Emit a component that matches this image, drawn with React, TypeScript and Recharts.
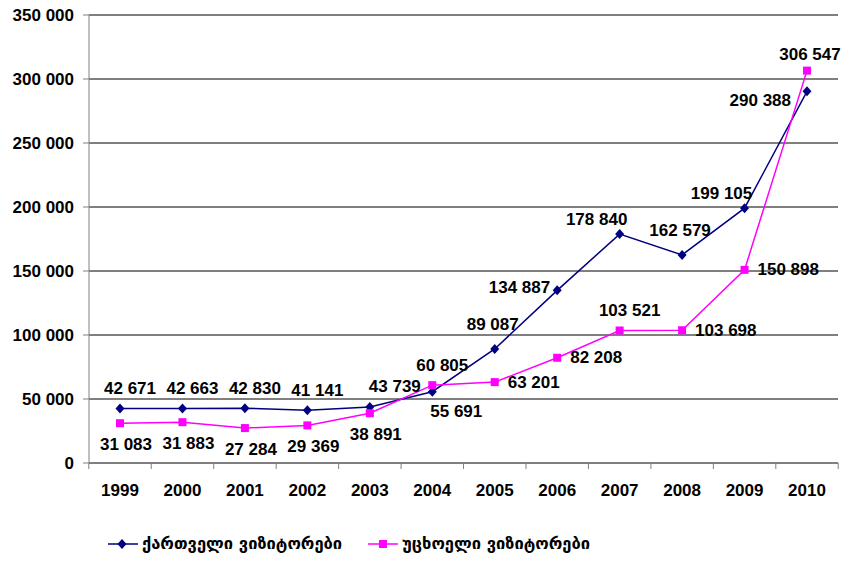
import React from 'react';
import { LineChart, Line, XAxis, YAxis, CartesianGrid, Legend, LabelList } from 'recharts';

const years = ['1999', '2000', '2001', '2002', '2003', '2004', '2005', '2006', '2007', '2008', '2009', '2010'];
const georgianVisitors = [42671, 42663, 42830, 41141, 43739, 55691, 89087, 134887, 178840, 162579, 199105, 290388];
const foreignVisitors = [31083, 31883, 27284, 29369, 38891, 60805, 63201, 82208, 103521, 103698, 150898, 306547];
const yTicks = [0, 50000, 100000, 150000, 200000, 250000, 300000, 350000];

const georgianName = 'ქართველი ვიზიტორები';
const foreignName = 'უცხოელი ვიზიტორები';

// where each data label sits relative to its point
const georgianLabelPlaces = ['aboveR', 'aboveR', 'aboveR', 'aboveR', 'aboveRR', 'belowR', 'above', 'left', 'aboveL', 'above', 'aboveL', 'leftLow'];
const foreignLabelPlaces = ['below', 'below', 'below', 'below', 'below', 'aboveR', 'right', 'right', 'aboveR', 'right', 'right', 'aboveC'];

const chartData = years.map((year, i) => ({
  year,
  georgian: georgianVisitors[i],
  foreign: foreignVisitors[i],
}));

const NAVY = '#000080';
const MAGENTA = '#FF00FF';
const FONT = '"Liberation Sans", Arial, sans-serif';

const fmt = (n: number) => String(n).replace(/\B(?=(\d{3})+(?!\d))/g, ' ');

const placeOffsets: Record<string, { dx: number; dy: number; anchor: 'start' | 'middle' | 'end' }> = {
  above: { dx: -2, dy: -24, anchor: 'middle' },
  aboveC: { dx: 3, dy: -16, anchor: 'middle' },
  aboveR: { dx: 10, dy: -20, anchor: 'middle' },
  aboveRR: { dx: 25, dy: -21, anchor: 'middle' },
  aboveL: { dx: -23, dy: -15, anchor: 'middle' },
  below: { dx: 6, dy: 21, anchor: 'middle' },
  belowR: { dx: 24, dy: 20, anchor: 'middle' },
  left: { dx: -7, dy: -3, anchor: 'end' },
  leftLow: { dx: -16, dy: 9, anchor: 'end' },
  right: { dx: 13, dy: 0, anchor: 'start' },
};

const makeLabel = (places: string[]) => (props: any) => {
  const { x, y, value, index } = props;
  const p = placeOffsets[places[index]] || placeOffsets.above;
  return (
    <text
      x={x + p.dx}
      y={y + p.dy}
      textAnchor={p.anchor}
      dominantBaseline="central"
      fontFamily={FONT}
      fontWeight="bold"
      fontSize={17}
      fill="#000"
    >
      {fmt(value)}
    </text>
  );
};

const Diamond = ({ cx, cy }: any) => (
  <path d={`M${cx},${cy - 5}L${cx + 4.5},${cy}L${cx},${cy + 5}L${cx - 4.5},${cy}Z`} fill={NAVY} />
);

const Square = ({ cx, cy }: any) => <rect x={cx - 4} y={cy - 4} width={8} height={8} fill={MAGENTA} />;

const YearTick = (props: any) => {
  const { x, y, payload, index, visibleTicksCount } = props;
  const half = payload.offset || 31.2;
  const axisY = y - 8;
  return (
    <g>
      <line x1={x - half} x2={x - half} y1={axisY} y2={axisY + 6} stroke="#808080" />
      {index === (visibleTicksCount ?? years.length) - 1 && (
        <line x1={x + half} x2={x + half} y1={axisY} y2={axisY + 6} stroke="#808080" />
      )}
      <text x={x} y={axisY + 27} textAnchor="middle" dominantBaseline="central" fontFamily={FONT} fontWeight="bold" fontSize={17} fill="#000">
        {payload.value}
      </text>
    </g>
  );
};

const LegendBox = () => (
  <div style={{ display: 'flex', alignItems: 'center', fontFamily: '"DejaVu Sans", sans-serif', fontWeight: 'bold', fontSize: 16.5, color: '#000' }}>
    <svg width={32} height={12} style={{ marginRight: 2 }}>
      <line x1={0} x2={30} y1={6} y2={6} stroke={NAVY} strokeWidth={1.5} />
      <path d="M14,1L18.5,6L14,11L9.5,6Z" fill={NAVY} />
    </svg>
    <span style={{ width: 226 }}>{georgianName}</span>
    <svg width={32} height={12} style={{ marginRight: 2 }}>
      <line x1={0} x2={30} y1={6} y2={6} stroke={MAGENTA} strokeWidth={1.5} />
      <rect x={11} y={2} width={8} height={8} fill={MAGENTA} />
    </svg>
    <span>{foreignName}</span>
  </div>
);

export default function App() {
  return (
    <div style={{ position: 'absolute', left: 0, top: 0, background: '#fff' }}>
      <LineChart width={845} height={566} data={chartData} margin={{ top: 15, right: 7, left: 0, bottom: 63 }}>
        <CartesianGrid vertical={false} stroke="#000" strokeWidth={1} />
        <XAxis
          dataKey="year"
          stroke="#808080"
          tickLine={false}
          height={40}
          tick={<YearTick />}
          interval={0}
          padding={{ left: 31, right: 31 }}
        />
        <YAxis
          domain={[0, 350000]}
          ticks={yTicks}
          width={89}
          stroke="#808080"
          tickSize={6}
          tickMargin={9}
          tickFormatter={fmt}
          tick={{ fill: '#000', fontFamily: FONT, fontWeight: 'bold', fontSize: 17 }}
        />
        <Legend
          layout="horizontal"
          verticalAlign="middle"
          align="center"
          content={<LegendBox />}
          wrapperStyle={{ top: 534, left: 108, width: 620, height: 22 }}
        />
        <Line
          type="linear"
          dataKey="georgian"
          name={georgianName}
          stroke={NAVY}
          strokeWidth={1.5}
          dot={<Diamond />}
          activeDot={false}
          isAnimationActive={false}
        >
          <LabelList dataKey="georgian" content={makeLabel(georgianLabelPlaces)} />
        </Line>
        <Line
          type="linear"
          dataKey="foreign"
          name={foreignName}
          stroke={MAGENTA}
          strokeWidth={1.5}
          dot={<Square />}
          activeDot={false}
          isAnimationActive={false}
        >
          <LabelList dataKey="foreign" content={makeLabel(foreignLabelPlaces)} />
        </Line>
      </LineChart>
    </div>
  );
}
